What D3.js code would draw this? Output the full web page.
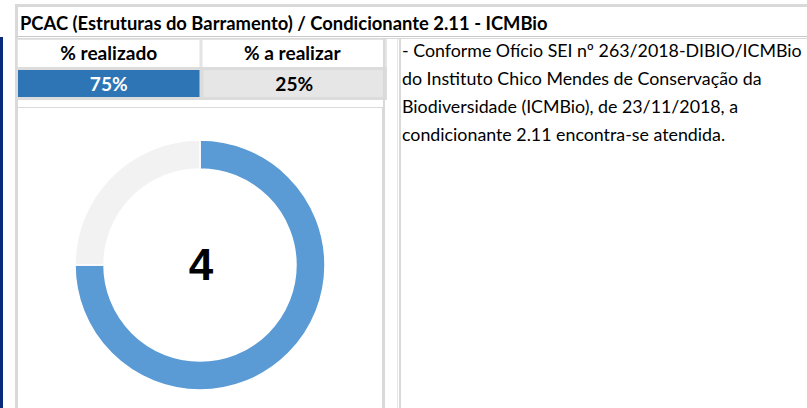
<!DOCTYPE html>
<html><head><meta charset="utf-8">
<script src="https://cdn.jsdelivr.net/npm/d3@7"></script>
<style>html,body{margin:0;padding:0;background:#fff;overflow:hidden}</style>
</head><body>
<svg id="c" width="807" height="408"></svg>
<script>
const title = "PCAC (Estruturas do Barramento) / Condicionante 2.11 - ICMBio";
const headers = ["% realizado", "% a realizar"];
const categories = ["realizado", "a realizar"];
const values = [75, 25];
const centerLabel = "4";
const noteLines = [
  "- Conforme Ofício SEI nº 263/2018-DIBIO/ICMBio",
  "do Instituto Chico Mendes de Conservação da",
  "Biodiversidade (ICMBio), de 23/11/2018, a",
  "condicionante 2.11 encontra-se atendida."
];

const svg = d3.select("#c");
const FONT = "Lato, 'Open Sans', sans-serif";
const grey = "#d9d9d9";

function fit(sel, w) {
  const n = sel.node();
  const fs = parseFloat(sel.attr("font-size"));
  const l = n.getComputedTextLength();
  const s = fs * w / l;
  if (l > 0) sel.attr("font-size", s);
  return s;
}

// left dark bar
svg.append("rect").attr("x",0).attr("y",37).attr("width",3).attr("height",371).attr("fill","#0a2b7c");
// outer frame lines
svg.append("rect").attr("x",15).attr("y",4).attr("width",792).attr("height",3).attr("fill",grey);
svg.append("rect").attr("x",15).attr("y",4).attr("width",3).attr("height",404).attr("fill",grey);
// title bottom double line
svg.append("rect").attr("x",17).attr("y",36).attr("width",790).attr("height",1).attr("fill","#c8c8c8");
svg.append("rect").attr("x",17).attr("y",38).attr("width",790).attr("height",1).attr("fill",grey);

// title
fit(svg.append("text").attr("x",20).attr("y",30).attr("font-family",FONT).attr("font-weight","bold")
  .attr("font-size",16).attr("fill","#000").text(title), 528);

// table cells
const xCell = d3.scaleBand().domain(categories).range([18, 383]).paddingInner(0.011);
const cellFill = ["#2e75b6", "#e7e6e6"];
const cellText = ["#ffffff", "#000000"];
// header row
svg.append("rect").attr("x",17).attr("y",39).attr("width",370).attr("height",31).attr("fill","#e4e4e4");
const hdr = [];
categories.forEach((c,i)=>{
  svg.append("rect").attr("x",xCell(c)+(i?1:0)).attr("y",40).attr("width",xCell.bandwidth()-(i?1:0)).attr("height",27).attr("fill","#fff");
  hdr.push(svg.append("text").attr("x",xCell(c)+xCell.bandwidth()/2).attr("y",60).attr("text-anchor","middle")
    .attr("font-family",FONT).attr("font-weight","bold").attr("font-size",16).attr("fill","#000").text(headers[i]));
});
const hs = fit(hdr[0], 97);
hdr[1].attr("font-size", hs);
// value row
svg.append("rect").attr("x",17).attr("y",67).attr("width",370).attr("height",33).attr("fill","#dcdcdc");
categories.forEach((c,i)=>{
  svg.append("rect").attr("x",xCell(c)+(i?2:0)).attr("y",70).attr("width",xCell.bandwidth()-(i?2:0)).attr("height",27).attr("fill",cellFill[i]);
  svg.append("text").attr("x",xCell(c)+xCell.bandwidth()/2+(i?2:0)).attr("y",91).attr("text-anchor","middle")
    .attr("font-family",FONT).attr("font-weight","bold").attr("font-size",hs).attr("fill",cellText[i]).text(values[i]+"%");
});
// vertical separators between table and note
svg.append("rect").attr("x",383).attr("y",39).attr("width",2).attr("height",369).attr("fill",grey);
svg.append("rect").attr("x",397).attr("y",39).attr("width",1).attr("height",369).attr("fill","#e6e6e6");
svg.append("rect").attr("x",399).attr("y",39).attr("width",2).attr("height",369).attr("fill",grey);

// chart box
svg.append("rect").attr("x",17.5).attr("y",107.5).attr("width",365).attr("height",310)
  .attr("fill","#fff").attr("stroke",grey).attr("stroke-width",1);

// donut
const cx = 200, cy = 265;
const pie = d3.pie().sort(null).value(d=>d)(values);
const arc = d3.arc().innerRadius(96).outerRadius(125);
const colors = d3.scaleOrdinal().domain(categories).range(["#5b9bd5", "#f2f2f2"]);
const g = svg.append("g").attr("transform",`translate(${cx},${cy})`);
g.selectAll("path").data(pie).join("path").attr("d",arc)
  .attr("fill",(d,i)=>colors(categories[i])).attr("stroke","#fff").attr("stroke-width",1.5);
g.append("text").attr("x",1).attr("y",15).attr("text-anchor","middle")
  .attr("font-family","'Liberation Sans', Arial, sans-serif").attr("font-weight","bold")
  .attr("font-size",44).attr("fill","#000").text(centerLabel);

// notes
const notes = noteLines.map((t,i)=>svg.append("text").attr("x",402).attr("y",57+i*28).attr("font-family",FONT)
    .attr("font-size",16).attr("fill","#000").text(t));
const ns = fit(notes[0], 400);
notes.forEach(n=>n.attr("font-size", ns));
</script>
</body></html>
